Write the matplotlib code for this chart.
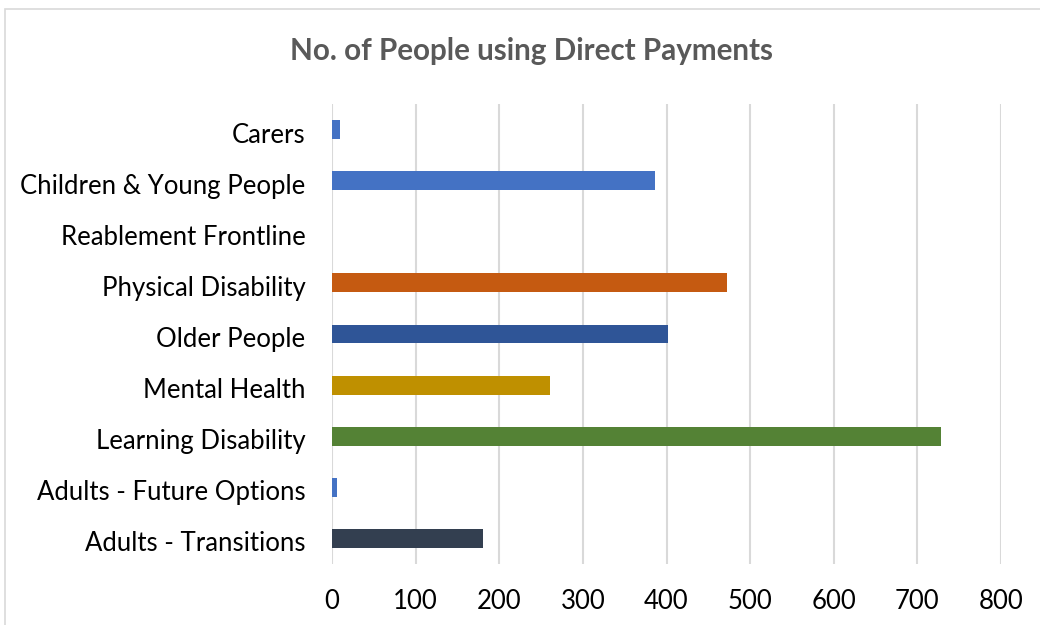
import matplotlib
matplotlib.use("Agg")
import matplotlib.pyplot as plt
from matplotlib.patches import Rectangle
from matplotlib.transforms import ScaledTranslation

categories = ["Adults - Transitions", "Adults - Future Options", "Learning Disability",
              "Mental Health", "Older People", "Physical Disability",
              "Reablement Frontline", "Children & Young People", "Carers"]
values = [180, 6, 728, 261, 402, 472, 0, 386, 10]
colors = ["#333F50", "#4472C4", "#548235", "#BF9000", "#2F5597", "#C55A11",
          "#4472C4", "#4472C4", "#4472C4"]
xticks = [0, 100, 200, 300, 400, 500, 600, 700, 800]
title = "No. of People using Direct Payments"

plt.rcParams['font.family'] = ['Lato', 'DejaVu Sans']

fig = plt.figure(figsize=(10.4, 6.25), dpi=100)
W, H = 1040, 625
# chart border
fig.patches.append(Rectangle((5 / W, -0.1), 1.2, 1 - 9 / H + 0.1, transform=fig.transFigure,
                             fill=False, edgecolor="#D9D9D9", linewidth=1.2))

ax = fig.add_axes([332 / W, 1 - 564 / H, (1001 - 332) / W, (564 - 104) / H])
y = list(range(len(categories)))
ax.barh(y, values, height=0.37, color=colors, zorder=3)
ax.set_xlim(0, 800)
ax.set_ylim(-0.5, len(categories) - 0.5)
ax.set_xticks(xticks)
ax.set_xticklabels([str(t) for t in xticks], fontsize=18.5, color="#000000")
ax.set_yticks(y)
ax.set_yticklabels(categories, fontsize=18.5, color="#000000")
ax.tick_params(axis="both", length=0)
ax.tick_params(axis="x", pad=18)
ax.tick_params(axis="y", pad=19)
shift = ScaledTranslation(0, -3 / 100, fig.dpi_scale_trans)
for lab in ax.get_yticklabels():
    lab.set_transform(lab.get_transform() + shift)
for s in ax.spines.values():
    s.set_visible(False)
ax.grid(axis="x", color="#D9D9D9", linewidth=1.5, zorder=0)
ax.set_axisbelow(True)

fig.text(531 / W, 1 - 51 / H, title, ha="center", va="center", fontsize=21.3,
         fontweight="bold", color="#595959")

fig.savefig("out.png", dpi=100)
